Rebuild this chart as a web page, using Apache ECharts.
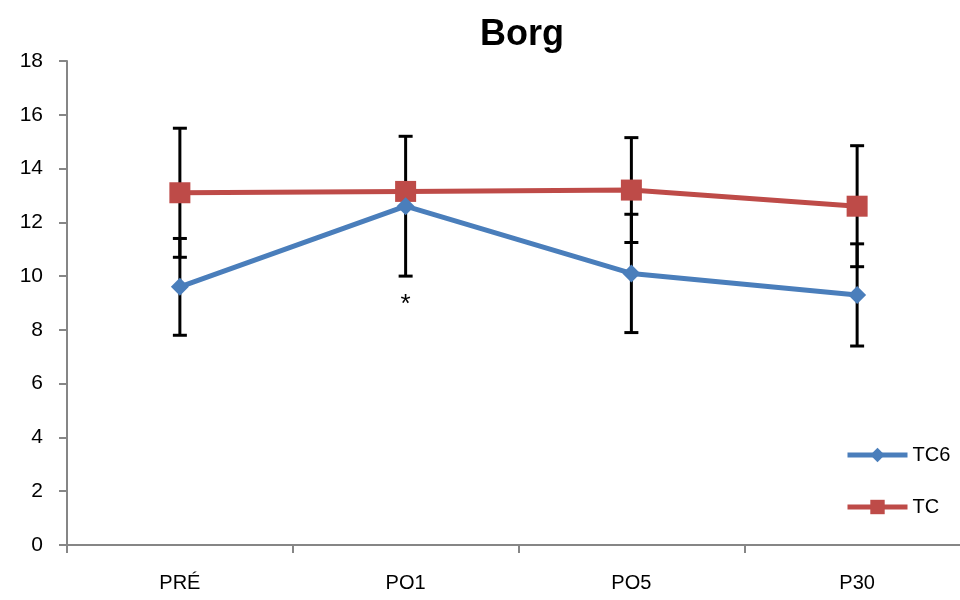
<!DOCTYPE html>
<html>
<head>
<meta charset="utf-8">
<script src="https://cdn.jsdelivr.net/npm/echarts@6/dist/echarts.min.js"></script>
<style>
  html, body { margin: 0; padding: 0; background: #fff; overflow: hidden; }
  #chart { width: 975px; height: 600px; }
</style>
</head>
<body>
<div id="chart"></div>
<script>
// Borg scale per time point, mean ± standard deviation
const categories = ['PRÉ', 'PO1', 'PO5', 'P30'];
const tc6Mean = [9.6, 12.6, 10.1, 9.3];
const tc6Sd = [1.8, 2.6, 2.2, 1.9];
const tcMean = [13.1, 13.15, 13.2, 12.6];
const tcSd = [2.4, null, 1.95, 2.25];
const yTicks = [0, 2, 4, 6, 8, 10, 12, 14, 16, 18];

const FONT = 'Liberation Sans';

function errorData(mean, sd) {
  const out = [];
  mean.forEach((m, i) => {
    if (sd[i] != null) out.push([i, m - sd[i], m + sd[i]]);
  });
  return out;
}

function renderErrorBar(params, api) {
  const x = api.value(0);
  const lo = api.coord([x, api.value(1)]);
  const hi = api.coord([x, api.value(2)]);
  const half = 7;
  const style = { stroke: '#000', lineWidth: 3 };
  return {
    type: 'group',
    children: [
      { type: 'line', shape: { x1: lo[0], y1: lo[1], x2: hi[0], y2: hi[1] }, style },
      { type: 'line', shape: { x1: lo[0] - half, y1: lo[1], x2: lo[0] + half, y2: lo[1] }, style },
      { type: 'line', shape: { x1: hi[0] - half, y1: hi[1], x2: hi[0] + half, y2: hi[1] }, style }
    ]
  };
}

const chart = echarts.init(document.getElementById('chart'));
chart.setOption({
  animation: false,
  backgroundColor: '#fff',
  title: {
    text: 'Borg',
    left: 517,
    textAlign: 'center',
    top: 12,
    textStyle: { fontFamily: FONT, fontSize: 36, fontWeight: 'bold', color: '#000' }
  },
  legend: {
    orient: 'vertical',
    left: 845,
    top: 445,
    padding: 0,
    itemWidth: 60,
    itemHeight: 18,
    itemGap: 32,
    data: ['TC6', 'TC'],
    lineStyle: { width: 5 },
    textStyle: { fontFamily: FONT, fontSize: 20, color: '#000' }
  },
  grid: { left: 67, top: 61, width: 903, height: 484, containLabel: false },
  xAxis: {
    type: 'category',
    data: categories,
    boundaryGap: true,
    axisLine: { lineStyle: { color: '#868686', width: 2 } },
    axisTick: { show: true, length: 8, lineStyle: { color: '#868686', width: 2 } },
    axisLabel: { fontFamily: FONT, fontSize: 20, color: '#000', margin: 28 }
  },
  yAxis: {
    type: 'value',
    min: yTicks[0],
    max: yTicks[yTicks.length - 1],
    interval: 2,
    splitLine: { show: false },
    axisLine: { show: true, lineStyle: { color: '#868686', width: 2 } },
    axisTick: { show: true, length: 8, lineStyle: { color: '#868686', width: 2 } },
    axisLabel: { fontFamily: FONT, fontSize: 21, color: '#000', margin: 24 }
  },
  series: [
    {
      name: 'TC6 SD',
      type: 'custom',
      renderItem: renderErrorBar,
      data: errorData(tc6Mean, tc6Sd),
      z: 1,
      silent: true
    },
    {
      name: 'TC SD',
      type: 'custom',
      renderItem: renderErrorBar,
      data: errorData(tcMean, tcSd),
      z: 1,
      silent: true
    },
    {
      name: 'TC6',
      type: 'line',
      data: tc6Mean,
      color: '#4a7ebb',
      symbol: 'diamond',
      symbolSize: 18,
      lineStyle: { width: 5, color: '#4a7ebb' },
      itemStyle: { color: '#4a7ebb' },
      z: 3,
      markPoint: {
        symbol: 'circle',
        symbolSize: 0,
        data: [{ coord: [1, 8.95], value: '*' }],
        label: {
          show: true,
          position: 'inside',
          formatter: '*',
          fontFamily: FONT,
          fontSize: 26,
          color: '#000'
        }
      }
    },
    {
      name: 'TC',
      type: 'line',
      data: tcMean,
      color: '#be4b48',
      symbol: 'rect',
      symbolSize: 21,
      lineStyle: { width: 5, color: '#be4b48' },
      itemStyle: { color: '#be4b48' },
      z: 2
    }
  ]
});
</script>
</body>
</html>
